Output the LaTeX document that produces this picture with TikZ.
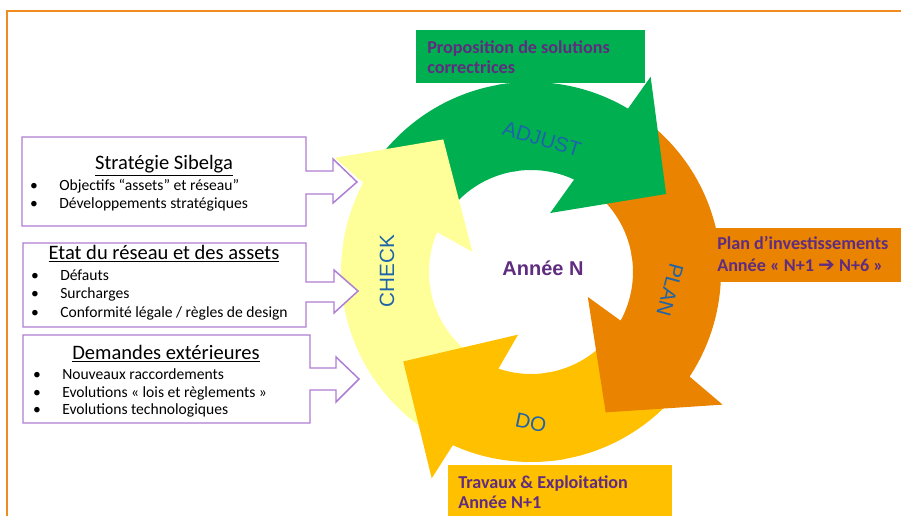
\documentclass[tikz,border=0pt]{standalone}
\usepackage{fontspec}
\setmainfont{Carlito}
\newfontfamily\arialfont{Liberation Sans}
\newfontfamily\symbolfont{DejaVu Sans}
\definecolor{framecol}{RGB}{240,140,30}
\definecolor{cyclegreen}{RGB}{0,176,80}
\definecolor{cycleorange}{RGB}{233,131,0}
\definecolor{cyclegold}{RGB}{255,192,0}
\definecolor{cyclepale}{RGB}{255,255,153}
\definecolor{labelblue}{RGB}{30,100,170}
\definecolor{textpurple}{RGB}{96,44,128}
\definecolor{calloutpurple}{RGB}{175,125,210}
\begin{document}
\begin{tikzpicture}[x=0.75pt,y=-0.75pt]
\tikzset{callout/.style={draw=calloutpurple, line width=1.1pt, fill=white, line join=miter}}
\tikzset{boxtitle/.style={font=\fontsize{15.4}{18}\selectfont, anchor=base, inner sep=0pt}}
\tikzset{item/.style={font=\fontsize{11.7}{14}\selectfont, anchor=base west, inner sep=0pt}}
\tikzset{phase/.style={font=\arialfont\fontsize{15.5}{18}\selectfont, text=labelblue, inner sep=0pt}}
\tikzset{boxtext/.style={font=\bfseries\fontsize{13.6}{16}\selectfont, text=textpurple, anchor=base west, inner sep=0pt}}
\useasboundingbox (0,0) rectangle (901,516);
% frame
\draw[framecol, line width=1.5pt] (901,11) -- (7,11) -- (7,516);
% cycle arrows: tails first, then heads
\begin{scope}[shift={(531,272)}, y=0.75pt]
\fill[cyclegreen] (143:190) arc[start angle=143, end angle=97, radius=190] -- (97:102) arc[start angle=97, end angle=143, radius=102] -- cycle;
\fill[cycleorange] (50:190) arc[start angle=50, end angle=7, radius=190] -- (7:102) arc[start angle=7, end angle=50, radius=102] -- cycle;
\fill[cyclegold] (-40:190) arc[start angle=-40, end angle=-83, radius=190] -- (-83:102) arc[start angle=-83, end angle=-40, radius=102] -- cycle;
\fill[cyclepale] (238:190) arc[start angle=238, end angle=187, radius=190] -- (187:102) arc[start angle=187, end angle=238, radius=102] -- cycle;
\fill[cyclegreen] (100:190) arc[start angle=100, end angle=59.3, radius=190] -- (58.5:229) -- (30:156) -- (72:62) -- (65:102) arc[start angle=65, end angle=100, radius=102] -- cycle;
\fill[cycleorange] (10:190) arc[start angle=10, end angle=-33.4, radius=190] -- (-34.7:233) -- (-62:159) -- (-23.7:62) -- (-28.5:102) arc[start angle=-28.5, end angle=10, radius=102] -- cycle;
\fill[cyclegold] (-80:190) arc[start angle=-80, end angle=-114.3, radius=190] -- (-115.7:229) -- (-145:156) -- (-101.7:64) -- (-108.6:102) arc[start angle=-108.6, end angle=-80, radius=102] -- cycle;
\fill[cyclepale] (190:190) arc[start angle=190, end angle=152, radius=190] -- (149.8:227) -- (123.5:159) -- (161:62) -- (157:102) arc[start angle=157, end angle=190, radius=102] -- cycle;
\end{scope}
% phase labels
\node (adjust) [phase, rotate=-17] at (542,139) {ADJUST};
\node (plan) [phase, rotate=-105] at (670,290) {PLAN};
\node (do) [phase, rotate=-12] at (531,423) {DO};
\node (check) [phase, rotate=90] at (387,271) {CHECK};
\node (year) [font=\arialfont\bfseries\fontsize{15}{18}\selectfont, text=textpurple] at (543,268) {Année N};
% result boxes
\fill[cyclegreen] (416,30) rectangle (645,83);
\fill[cycleorange] (715,228) rectangle (901,282);
\fill[cyclegold] (448,465) rectangle (672,516);
\node (sol1) [boxtext] at (427,54) {Proposition de solutions};
\node (sol2) [boxtext] at (427,74) {correctrices};
\node (inv1) [boxtext] at (717,250) {Plan d’investissements};
\node (inv2) [boxtext] at (717,272) {Année «~N+1 {\symbolfont\bfseries\fontsize{15}{16}\selectfont ➔}~N+6~»};
\node (work1) [boxtext] at (458,489) {Travaux \& Exploitation};
\node (work2) [boxtext] at (458,509) {Année N+1};
% inputs
\draw[callout] (22,137) -- (306,137) -- (306,171) -- (333,171) -- (333,159) -- (357,182) -- (333,203) -- (333,194) -- (306,194) -- (306,226) -- (22,226) -- cycle;
\draw[callout] (23,243) -- (306,243) -- (306,282) -- (334,282) -- (334,270) -- (358,291) -- (334,313) -- (334,302) -- (306,302) -- (306,327) -- (23,327) -- cycle;
\draw[callout] (23,335) -- (310,335) -- (310,368) -- (336,368) -- (336,357) -- (359,379) -- (336,402) -- (336,390) -- (310,390) -- (310,423) -- (23,423) -- cycle;
\node (strat) [boxtitle] at (164,169.5) {\underline{Stratégie Sibelga}};
\node (strat1) [item] at (59,190.3) {\llap{\textbullet\hspace{16pt}}Objectifs “assets” et réseau”};
\node (strat2) [item] at (59,208.3) {\llap{\textbullet\hspace{16pt}}Développements stratégiques};
\node (etat) [boxtitle] at (164,259.5) {\underline{Etat du réseau et des assets}};
\node (etat1) [item] at (60,280.3) {\llap{\textbullet\hspace{16pt}}Défauts};
\node (etat2) [item] at (60,298.3) {\llap{\textbullet\hspace{16pt}}Surcharges};
\node (etat3) [item] at (60,317.3) {\llap{\textbullet\hspace{16pt}}Conformité légale / règles de design};
\node (dem) [boxtitle] at (166,359.5) {\underline{Demandes extérieures}};
\node (dem1) [item] at (62,379.3) {\llap{\textbullet\hspace{16pt}}Nouveaux raccordements};
\node (dem2) [item] at (62,397.3) {\llap{\textbullet\hspace{16pt}}Evolutions «~lois et règlements~»};
\node (dem3) [item] at (62,414.3) {\llap{\textbullet\hspace{16pt}}Evolutions technologiques};
\end{tikzpicture}
\end{document}
